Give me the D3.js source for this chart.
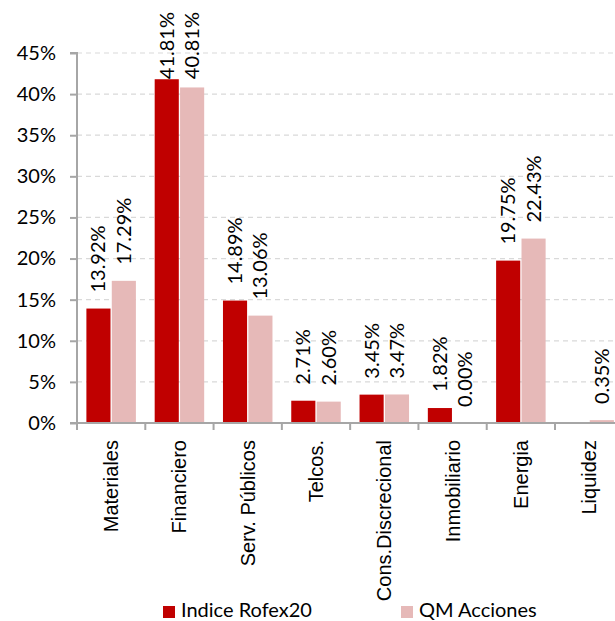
<!DOCTYPE html>
<html>
<head>
<meta charset="utf-8">
<script src="https://cdn.jsdelivr.net/npm/d3@7"></script>
<style>
  html, body { margin: 0; padding: 0; background: #fff; }
  svg { display: block; font-family: Lato, "Open Sans", sans-serif; }
</style>
</head>
<body>
<svg id="chart" width="615" height="621"></svg>
<script>
const categories = ["Materiales", "Financiero", "Serv. Públicos", "Telcos.", "Cons.Discrecional", "Inmobiliario", "Energia", "Liquidez"];
const rofex20 = [13.92, 41.81, 14.89, 2.71, 3.45, 1.82, 19.75, null];
const qmAcciones = [17.29, 40.81, 13.06, 2.60, 3.47, 0.00, 22.43, 0.35];
const seriesNames = ["Indice Rofex20", "QM Acciones"];
const yTicks = [0, 5, 10, 15, 20, 25, 30, 35, 40, 45];

const colors = ["#C00000", "#E6B9B8"];
const fontSize = 20;

const svg = d3.select("#chart");
const pLeft = 77, pRight = 623.3, pTop = 53, pBottom = 423;

const x = d3.scaleBand().domain(categories).range([pLeft, pRight]).paddingInner(0).paddingOuter(0);
const y = d3.scaleLinear().domain([0, 45]).range([pBottom, pTop]);
const inner = d3.scaleBand().domain(seriesNames).range([0, x.bandwidth()]).paddingInner(0.05).paddingOuter(0.37);

// gridlines
svg.append("g").selectAll("line").data(yTicks.filter(d => d > 0)).join("line")
  .attr("x1", pLeft).attr("x2", pRight)
  .attr("y1", d => y(d)).attr("y2", d => y(d))
  .attr("stroke", "#D9D9D9").attr("stroke-width", 1.2).attr("stroke-dasharray", "5,4");

// bars
const series = [rofex20, qmAcciones];
series.forEach((vals, si) => {
  const data = categories.map((c, i) => ({ c, v: vals[i] })).filter(d => d.v !== null);
  svg.append("g").selectAll("rect").data(data).join("rect")
    .attr("x", d => x(d.c) + inner(seriesNames[si]))
    .attr("width", inner.bandwidth())
    .attr("y", d => y(d.v))
    .attr("height", d => y(0) - y(d.v))
    .attr("fill", colors[si]);
});

// y axis
const yAxis = d3.axisLeft(y).tickValues(yTicks).tickFormat(d => d + "%").tickSize(7).tickPadding(14);
const ga = svg.append("g").attr("transform", `translate(${pLeft},0)`).call(yAxis);
ga.select(".domain").attr("stroke", "#A6A6A6").attr("stroke-width", 2).attr("d", `M-7,${pTop}H0V${pBottom}`);
ga.selectAll(".tick line").attr("stroke", "#A6A6A6").attr("stroke-width", 2);
ga.selectAll(".tick text").attr("font-size", fontSize).attr("fill", "#000").attr("font-family", "Lato");

// x axis
const xAxis = d3.axisBottom(x).tickSize(0).tickFormat("");
const gx = svg.append("g").attr("transform", `translate(0,${pBottom})`).call(xAxis);
gx.select(".domain").attr("stroke", "#A6A6A6").attr("stroke-width", 2).attr("d", `M${pLeft - 7},0H${pRight}`);
const bounds = categories.map(c => x(c)).concat([x(categories[categories.length - 1]) + x.bandwidth()]);
gx.append("g").selectAll("line").data(bounds).join("line")
  .attr("x1", d => d).attr("x2", d => d).attr("y1", 0).attr("y2", 7)
  .attr("stroke", "#A6A6A6").attr("stroke-width", 2);
gx.append("g").selectAll("text").data(categories).join("text")
  .attr("transform", d => `translate(${x(d) + x.bandwidth() / 2},17) rotate(-90)`)
  .attr("text-anchor", "end").attr("dy", "0.35em")
  .attr("font-size", fontSize).attr("fill", "#000").text(d => d);

// data labels
series.forEach((vals, si) => {
  const data = categories.map((c, i) => ({ c, v: vals[i] })).filter(d => d.v !== null);
  const g = svg.append("g");
  g.selectAll("text").data(data).join("text")
    .attr("text-anchor", "start").attr("dy", "0.35em")
    .attr("font-size", fontSize).attr("fill", "#000")
    .text(d => d.v.toFixed(2) + "%")
    .each(function (d) {
      const len = this.getComputedTextLength();
      let b = y(d.v) - 16;
      if (b - len < 12) b = 12 + len;
      const cx = x(d.c) + inner(seriesNames[si]) + inner.bandwidth() / 2;
      d3.select(this).attr("transform", `translate(${cx},${b}) rotate(-90)`);
    });
});

// legend
const legendItems = [{ name: seriesNames[0], color: colors[0], x: 163 }, { name: seriesNames[1], color: colors[1], x: 401 }];
const lg = svg.append("g");
legendItems.forEach(it => {
  lg.append("rect").attr("x", it.x).attr("y", 606).attr("width", 12).attr("height", 12).attr("fill", it.color);
  lg.append("text").attr("x", it.x + 18).attr("y", 617)
    .attr("font-size", fontSize).attr("fill", "#000").text(it.name);
});
</script>
</body>
</html>
